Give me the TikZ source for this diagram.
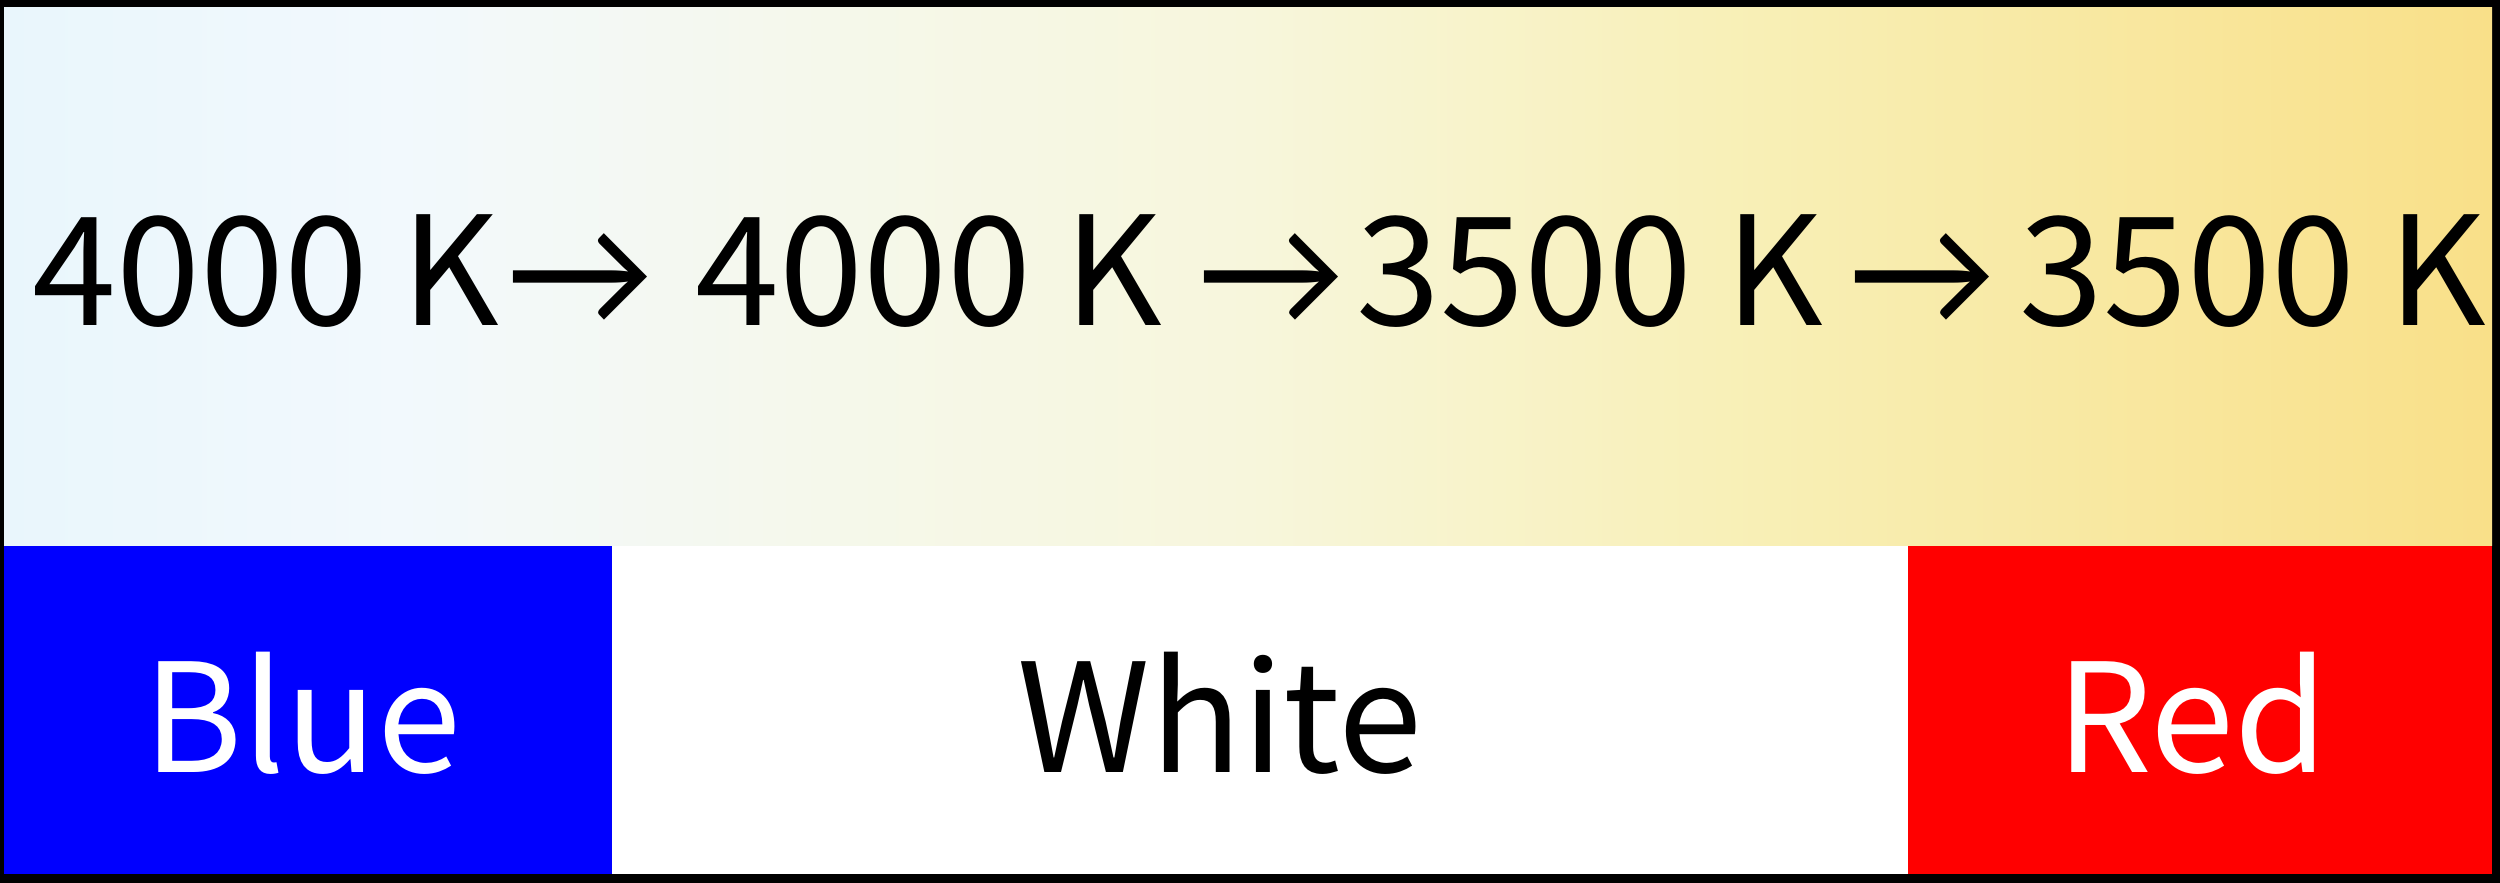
\documentclass[tikz,border=0pt]{standalone}
\usepackage{fontspec}
\newfontfamily\labelfont{Noto Sans CJK SC}
\newfontfamily\arrowfont{Lato}
% warm-to-cool colour temperature band
\pgfdeclarehorizontalshading{cctband}{100bp}{%
  rgb(0bp)=(0.914,0.965,0.988);
  rgb(25bp)=(0.914,0.965,0.988);
  rgb(33bp)=(0.949,0.976,0.992);
  rgb(41bp)=(0.961,0.973,0.925);
  rgb(50bp)=(0.969,0.965,0.863);
  rgb(59.5bp)=(0.973,0.941,0.722);
  rgb(75bp)=(0.976,0.878,0.537);
  rgb(100bp)=(0.976,0.878,0.537)}
\begin{document}
\begin{tikzpicture}[x=0.01cm,y=-0.01cm,
  bigtext/.style={inner sep=0pt,anchor=base,
    font=\labelfont\fontsize{43}{52}\selectfont},
  darktext/.style={bigtext,text=black},
  lighttext/.style={bigtext,text=white},
  arrowtext/.style={inner sep=0pt,anchor=base,text=black,
    font=\arrowfont\fontsize{43}{52}\selectfont}]
\useasboundingbox (0,0) rectangle (2500,883);
% frame and panels
\fill[black] (0,0) rectangle (2500,883);
\shade[shading=cctband] (4,8) rectangle (2492,546);
\fill[blue] (4,546) rectangle (612,874);
\fill[white] (612,546) rectangle (1908,874);
\fill[red] (1908,546) rectangle (2492,874);
% temperature sequence
\node[darktext] (t1) at (266,326) {4000 K};
\node[arrowtext] (a1) at (580,326) {→};
\node[darktext] (t2) at (929,326) {4000 K};
\node[arrowtext] (a2) at (1271,326) {→};
\node[darktext] (t3) at (1590,326) {3500 K};
\node[arrowtext] (a3) at (1922,326) {→};
\node[darktext] (t4) at (2253,326) {3500 K};
% colour labels
\node[lighttext] (blue) at (302,773) {Blue};
\node[darktext] (white) at (1220,773) {White};
\node[lighttext] (red) at (2192,773) {Red};
\end{tikzpicture}
\end{document}
